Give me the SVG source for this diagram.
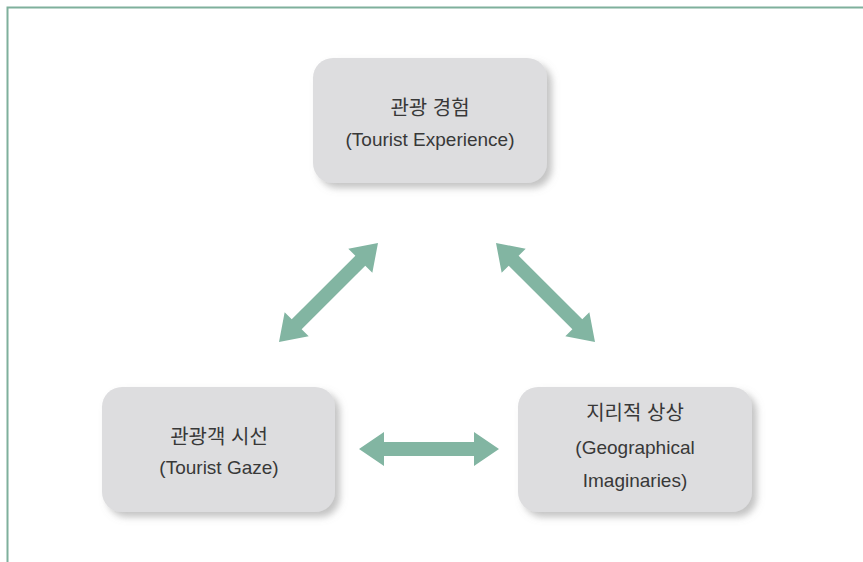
<svg xmlns="http://www.w3.org/2000/svg" width="863" height="562" viewBox="0 0 863 562">
<style>
.box{fill:#dddddf;filter:url(#sh);}
.t{font-family:"Liberation Sans","Noto Sans CJK KR",sans-serif;font-size:19px;fill:#383838;text-anchor:middle;}
.k{font-size:20px;}
.arr{fill:#82b5a2;}
</style>
<defs>
<filter id="sh" x="-10%" y="-10%" width="130%" height="130%">
<feDropShadow dx="5" dy="5" stdDeviation="3.5" flood-color="#888888" flood-opacity="0.5"/>
</filter>
<path id="dbl" d="M -70 0 L -45 -17 L -45 -7 L 45 -7 L 45 -17 L 70 0 L 45 17 L 45 7 L -45 7 L -45 17 Z"/>
</defs>
<rect width="863" height="562" fill="#ffffff"/>
<path d="M 7.5 562 L 7.5 7.5 L 863 7.5" fill="none" stroke="#7fb09c" stroke-width="2"/>
<g id="connectors">
<use href="#dbl" class="arr" transform="translate(328.5 292.5) rotate(-45)"/>
<use href="#dbl" class="arr" transform="translate(545.5 292.5) rotate(45)"/>
<use href="#dbl" class="arr" transform="translate(429 449)"/>
</g>
<g id="node-experience">
<rect class="box" x="313" y="58" width="234" height="125" rx="20"/>
<text class="t k" x="430" y="115">관광 경험</text>
<text class="t" x="430" y="146">(Tourist Experience)</text>
</g>
<g id="node-gaze">
<rect class="box" x="102" y="387" width="233" height="125" rx="20"/>
<text class="t k" x="219" y="444">관광객 시선</text>
<text class="t" x="219" y="474">(Tourist Gaze)</text>
</g>
<g id="node-imaginaries">
<rect class="box" x="518" y="387" width="234" height="125" rx="20"/>
<text class="t k" x="635" y="420">지리적 상상</text>
<text class="t" x="635" y="454">(Geographical</text>
<text class="t" x="635" y="487">Imaginaries)</text>
</g>
</svg>
